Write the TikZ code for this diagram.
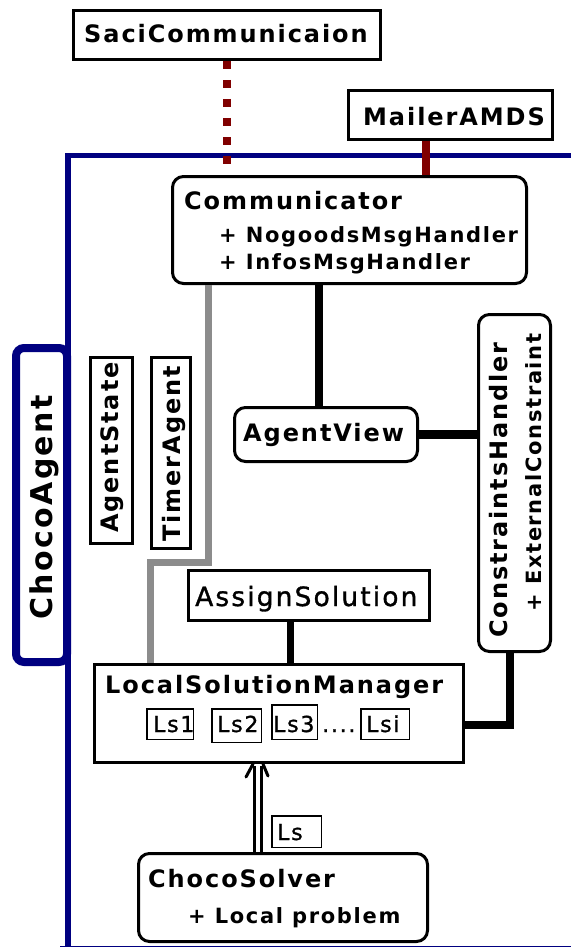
\documentclass[tikz,border=0pt]{standalone}
\usepackage{fontspec}
\setmainfont{DejaVu Sans}
\newfontfamily\djf{DejaVu Sans}[LetterSpace=8]
\newfontfamily\djm{DejaVu Sans}[LetterSpace=8, FakeBold=1.2]
\usetikzlibrary{arrows.meta}
\definecolor{navyc}{RGB}{0,0,128}
\definecolor{dred}{RGB}{128,0,0}
\definecolor{grayc}{RGB}{140,140,140}
\tikzset{
  bx/.style 2 args={draw=black, line width=3pt, rectangle, inner sep=0pt, minimum width=#1, minimum height=#2},
  rbx/.style 2 args={bx={#1}{#2}, rounded corners=11pt},
  smallbx/.style 2 args={draw=black, line width=1.5pt, rectangle, inner sep=0pt, minimum width=#1, minimum height=#2},
  tmain/.style={inner sep=0pt, font=\djf\bfseries\fontsize{24}{28}\selectfont},
  tsub/.style={inner sep=0pt, font=\djf\bfseries\fontsize{21}{25}\selectfont},
  tbig/.style={inner sep=0pt, font=\djf\bfseries\fontsize{30}{34}\selectfont},
  tls/.style={inner sep=0pt, font=\djm\fontsize{22}{26}\selectfont},
  tassign/.style={inner sep=0pt, font=\djm\fontsize{26.5}{31}\selectfont},
  blkline/.style={draw=black, line width=8pt},
  dotline/.style={draw=dred, line width=8pt, dash pattern=on 8pt off 11pt},
  redline/.style={draw=dred, line width=8pt},
  grayline/.style={draw=grayc, line width=7pt},
  dblline/.style={draw=black, line width=3pt, double=white, double distance=4pt},
  barb/.style={draw=black, line width=3pt, line cap=round},
}
\begin{document}
\begin{tikzpicture}[x=1pt,y=-1pt]
\useasboundingbox (0,0) rectangle (570,947);
% frame
\draw[navyc, line width=5.5pt] (575,155.5) -- (68,155.5) -- (68,952);
\draw[navyc, line width=4pt] (60,948) -- (575,948);
% ChocoAgent
\node[draw=navyc, fill=white, line width=8pt, rounded corners=8pt, minimum width=51pt, minimum height=314pt, inner sep=0pt] (ca) at (41.5,505) {};
\node[tbig, rotate=90, anchor=base] (catxt) at (52,507.5) {ChocoAgent};
% top boxes
\node[bx={307pt}{49pt}] (saci) at (227,35) {};
\node[tmain, anchor=base west] (sacitxt) at (84,43) {SaciCommunicaion};
\node[bx={204pt}{49pt}] (mailer) at (450.5,115) {};
\node[tmain, anchor=base west] (mailertxt) at (363,125) {MailerAMDS};
% communicator
\node[rbx={354pt}{107pt}] (comm) at (349.5,230) {};
\node[tmain, anchor=base west] (commtxt) at (184,209) {Communicator};
\node[tsub, anchor=base west] (comm1) at (219,242) {+ NogoodsMsgHandler};
\node[tsub, anchor=base west] (comm2) at (219,269) {+ InfosMsgHandler};
% agent view
\node[rbx={183pt}{54pt}] (av) at (326,434.5) {};
\node[tmain, anchor=base west] (avtxt) at (243,441) {AgentView};
% constraints handler
\node[rbx={72pt}{337pt}] (ch) at (514.5,483) {};
\node[tmain, rotate=90, anchor=base] (chtxt) at (507,490) {ConstraintsHandler};
\node[tsub, rotate=90, anchor=base] (chtxt2) at (541,472.5) {+ ExternalConstraint};
% agent state / timer
\node[bx={42pt}{186pt}] (ast) at (111.5,450.5) {};
\node[tmain, rotate=90, anchor=base] (asttxt) at (118,447.5) {AgentState};
\node[bx={39pt}{191pt}] (ta) at (171,453) {};
\node[tmain, rotate=90, anchor=base] (tatxt) at (180,454) {TimerAgent};
% assign solution
\node[bx={241pt}{50pt}] (assign) at (309,595.5) {};
\node[tassign, anchor=base west] (assigntxt) at (195,606) {AssignSolution};
% local solution manager
\node[bx={369pt}{98pt}] (lsm) at (279,713.5) {};
\node[tmain, anchor=base west] (lsmtxt) at (105,693) {LocalSolutionManager};
\node[smallbx={46.5pt}{30.5pt}] (ls1) at (170,724) {};
\node[tls, anchor=base west] (ls1t) at (153,732) {Ls1};
\node[smallbx={49.5pt}{33.5pt}] (ls2) at (236.5,725.5) {};
\node[tls, anchor=base west] (ls2t) at (217,732) {Ls2};
\node[smallbx={45.5pt}{34.5pt}] (ls3) at (294.5,722) {};
\node[tls, anchor=base west] (ls3t) at (273,732) {Ls3};
\node[tls, anchor=base west] (dots) at (322,732) {....};
\node[smallbx={48.5pt}{30.5pt}] (lsi) at (385,724) {};
\node[tls, anchor=base west] (lsit) at (366,732) {Lsi};
% Ls label
\node[smallbx={49.5pt}{31.5pt}] (ls) at (296.5,831.5) {};
\node[tls, anchor=base west] (lst) at (277,840) {Ls};
% choco solver
\node[rbx={289pt}{88pt}] (cs) at (283,897.5) {};
\node[tmain, anchor=base west] (cstxt) at (148,887) {ChocoSolver};
\node[tsub, anchor=base west] (cs1) at (188,923) {+ Local problem};
% connectors
\draw[dotline] (saci.south) -- (saci.south |- comm.north);
\coordinate (m1) at ([xshift=-24.5pt]mailer.south);
\draw[redline] (m1) -- (m1 |- comm.north);
\coordinate (a1) at ([xshift=-7pt]av.north);
\draw[blkline] (a1 |- comm.south) -- (a1);
\draw[blkline, line width=9pt] (av.east) -- (av.east -| ch.west);
\coordinate (g1) at ([xshift=-141.5pt]comm.south);
\coordinate (g2) at ([xshift=-128.5pt]lsm.north);
\draw[grayline] (g1) -- ++(0,277.5) -| (g2);
\coordinate (s1) at ([xshift=-19pt]assign.south);
\draw[blkline, line width=7pt] (s1) -- (s1 |- lsm.north);
\coordinate (h1) at ([xshift=-4.5pt]ch.south);
\coordinate (h2) at ([yshift=-11.5pt]lsm.east);
\draw[blkline] (h1) |- (h2);
\coordinate (k1) at ([xshift=-25pt]cs.north);
\coordinate (k2) at (k1 |- lsm.south);
\draw[dblline] (k1) -- ([yshift=-1.5pt]k2);
\draw[barb] ([xshift=-5pt]k2) -- ++(-7,13);
\draw[barb] ([xshift=5pt]k2) -- ++(5,12);
\end{tikzpicture}
\end{document}
